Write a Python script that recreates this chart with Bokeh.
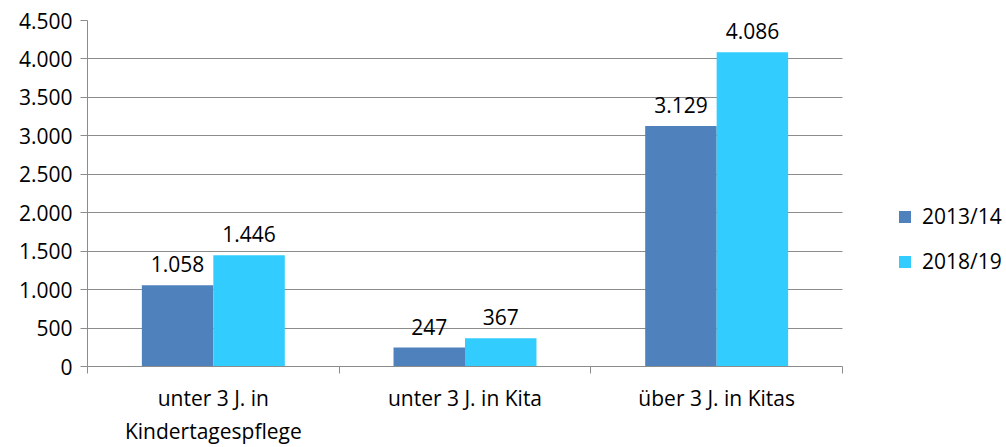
from bokeh.plotting import figure
from bokeh.models import ColumnDataSource, FixedTicker, Legend, LegendItem, Range1d
from bokeh.core.properties import value
from bokeh.embed import file_html
from bokeh.resources import INLINE

categories = ["unter 3 J. in\nKindertagespflege", "unter 3 J. in Kita", "über 3 J. in Kitas"]
series_names = ["2013/14", "2018/19"]
values_2013 = [1058, 247, 3129]
values_2018 = [1446, 367, 4086]
y_ticks = [0, 500, 1000, 1500, 2000, 2500, 3000, 3500, 4000, 4500]

def fmt(v):
    return f"{v:,}".replace(",", ".")

FONT = "Open Sans"
FS = "21px"
DARK = "#4F81BD"
LIGHT = "#33CCFF"
GRID = "#8C8C8C"

W, H = 1006, 447
LEFT, TOP, BOTTOM = 87, 20, 78
PLOT_RIGHT = 842  # right end of the category axis
x_end = 3 * (W - LEFT) / (PLOT_RIGHT - LEFT)

p = figure(width=W, height=H, output_backend="svg", toolbar_location=None,
           x_range=Range1d(0, x_end), y_range=Range1d(0, 4500),
           min_border_left=LEFT, min_border_top=TOP, min_border_bottom=BOTTOM, min_border_right=0)
p.outline_line_color = None
p.background_fill_color = "white"
p.border_fill_color = "white"

bw = 0.284
centers = [i + 0.5 for i in range(len(categories))]
x1 = [c - bw / 2 for c in centers]
x2 = [c + bw / 2 for c in centers]

s1 = ColumnDataSource(dict(x=x1, top=values_2013, lab=[fmt(v) for v in values_2013]))
s2 = ColumnDataSource(dict(x=x2, top=values_2018, lab=[fmt(v) for v in values_2018]))
r1 = p.vbar(x="x", top="top", width=bw, bottom=0, source=s1, fill_color=DARK, line_color=None)
r2 = p.vbar(x="x", top="top", width=bw, bottom=0, source=s2, fill_color=LIGHT, line_color=None)

for s in (s1, s2):
    p.text(x="x", y="top", text="lab", source=s, text_align="center", text_baseline="bottom",
           y_offset=-13, text_font=value(FONT), text_font_size=FS, text_color="#000000")

# x axis
xa = p.xaxis[0]
xa.bounds = (0, 3)
xa.ticker = FixedTicker(ticks=centers, minor_ticks=[0, 1, 2, 3])
xa.major_label_overrides = {c: lab for c, lab in zip(centers, categories)}
xa.major_tick_out = 0
xa.major_tick_in = 0
xa.minor_tick_out = 7
xa.minor_tick_in = 0
xa.minor_tick_line_color = GRID
xa.axis_line_color = GRID
xa.major_label_text_font = FONT
xa.major_label_text_font_size = FS
xa.major_label_text_color = "#000000"
xa.major_label_text_align = "center"
xa.major_label_text_line_height = 1.18
xa.major_label_standoff = 10

# y axis
ya = p.yaxis[0]
ya.ticker = FixedTicker(ticks=y_ticks)
ya.major_label_overrides = {t: fmt(t) for t in y_ticks}
ya.major_tick_out = 7
ya.major_tick_in = 0
ya.minor_tick_out = 0
ya.minor_tick_in = 0
ya.major_tick_line_color = GRID
ya.axis_line_color = GRID
ya.major_label_text_font = FONT
ya.major_label_text_font_size = FS
ya.major_label_text_color = "#000000"
ya.major_label_standoff = 8

p.xgrid.grid_line_color = None
p.ygrid.grid_line_color = GRID
p.ygrid.grid_line_width = 1
p.ygrid.cross_bounds = (0, 3)

legend = Legend(items=[LegendItem(label=series_names[0], renderers=[r1]),
                       LegendItem(label=series_names[1], renderers=[r2])],
                location=(810, 91), border_line_color=None, background_fill_alpha=0,
                label_text_font=FONT, label_text_font_size=FS, label_text_color="#000000",
                glyph_width=15, glyph_height=15, label_height=15, spacing=17,
                label_standoff=10, padding=0, margin=0)
p.add_layout(legend, "center")

open("out.html", "w").write(file_html(p, INLINE))
